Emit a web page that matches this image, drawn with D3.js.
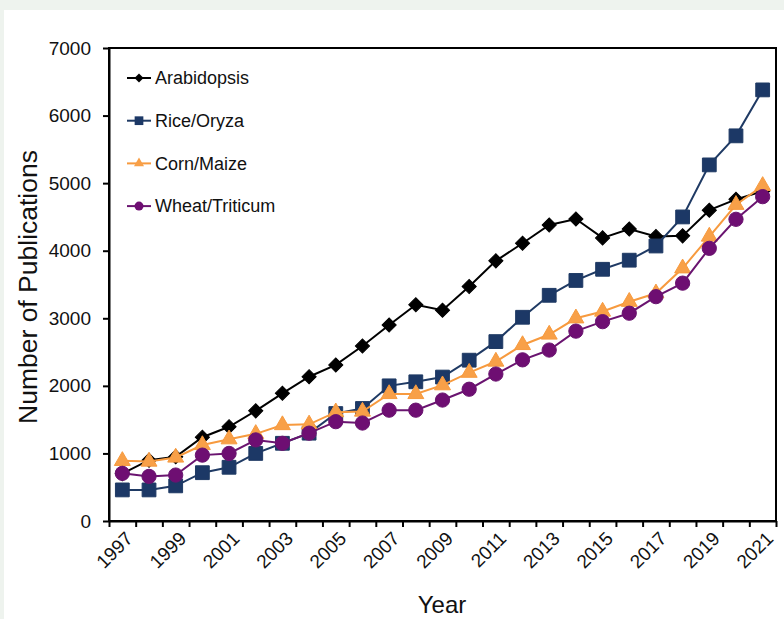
<!DOCTYPE html>
<html>
<head>
<meta charset="utf-8">
<script src="https://cdn.jsdelivr.net/npm/d3@7"></script>
<style>
    body { margin: 0; background: #eef3ee; }
    svg { display: block; font-family: "Liberation Sans", Arial, sans-serif; }
</style>
</head>
<body>
<svg id="pub-chart" width="784" height="619"></svg>
<script>
    // data
    var years = d3.range(1997, 2022);
    var arabidopsis = [700, 900, 950, 1240, 1395, 1630, 1890, 2135, 2310, 2590, 2900, 3200, 3120, 3470, 3850, 4110, 4380, 4470, 4190, 4320, 4210, 4220, 4600, 4760, 4880];
    var rice = [460, 460, 520, 715, 795, 1000, 1150, 1300, 1590, 1665, 2000, 2060, 2130, 2380, 2655, 3015, 3340, 3560, 3725, 3860, 4070, 4500, 5270, 5700, 6380];
    var corn = [890, 880, 940, 1125, 1210, 1290, 1420, 1430, 1610, 1620, 1880, 1880, 2010, 2195, 2360, 2605, 2760, 3000, 3100, 3245, 3370, 3740, 4210, 4680, 4960];
    var wheat = [705, 660, 680, 975, 1000, 1200, 1150, 1300, 1470, 1450, 1640, 1640, 1790, 1950, 2175, 2385, 2530, 2810, 2950, 3075, 3320, 3520, 4035, 4465, 4800];
    var yTicks = [0, 1000, 2000, 3000, 4000, 5000, 6000, 7000];
    var xLabels = years.filter(function(d){ return (d - 1997) % 2 === 0; });

    var svg = d3.select("#pub-chart");
    var margin = { top: 48, bottom: 98, left: 109, right: 8 };
    var w = +svg.attr("width");
    var h = +svg.attr("height");

    // white panel inside the pale frame
    svg.append("rect")
        .attr("x", 4).attr("y", 10)
        .attr("width", w - 4).attr("height", h - 10)
        .attr("fill", "#ffffff");

    var x = d3.scaleBand()
        .domain(years)
        .range([margin.left, w - margin.right])
        .padding(0);
    var xIdx = d3.scaleLinear()          // category boundaries for tick marks
        .domain([0, years.length])
        .range([margin.left, w - margin.right]);
    var y = d3.scaleLinear()
        .domain([0, 7000])
        .range([h - margin.bottom, margin.top]);

    function cx(d){ return x(d) + x.bandwidth() / 2; }

    // frame
    svg.append("rect")
        .attr("x", margin.left).attr("y", margin.top)
        .attr("width", w - margin.right - margin.left)
        .attr("height", h - margin.bottom - margin.top)
        .attr("fill", "none")
        .attr("stroke", "#000")
        .attr("stroke-width", 2);

    // y axis
    var yAxis = svg.append("g")
        .attr("transform", "translate(" + margin.left + ",0)")
        .call(d3.axisLeft(y).tickValues(yTicks).tickFormat(d3.format("d")).tickSize(6).tickSizeOuter(0).tickPadding(12));
    yAxis.selectAll("text").style("font-size", "19px").attr("fill", "#111");
    yAxis.selectAll("line, path").attr("stroke", "#000").attr("stroke-width", 2);

    // x axis: ticks on category boundaries
    var xAxis = svg.append("g")
        .attr("transform", "translate(0," + (h - margin.bottom) + ")")
        .call(d3.axisBottom(xIdx).tickValues(d3.range(years.length + 1)).tickFormat("").tickSize(6).tickSizeOuter(0));
    xAxis.selectAll("line, path").attr("stroke", "#000").attr("stroke-width", 2);

    svg.append("g").selectAll("text")
        .data(xLabels)
        .enter()
        .append("text")
        .attr("transform", function(d){ return "translate(" + (cx(d) + 7) + "," + (h - margin.bottom + 14) + ") rotate(-45)"; })
        .attr("text-anchor", "end")
        .attr("dy", "0.35em")
        .style("font-size", "19px")
        .attr("fill", "#111")
        .text(function(d){ return d; });

    // axis titles
    svg.append("text")
        .attr("transform", "translate(" + 37 + "," + 287 + ") rotate(-90)")
        .attr("text-anchor", "middle")
        .style("font-size", "26.5px")
        .attr("fill", "#111")
        .text("Number of Publications");
    svg.append("text")
        .attr("x", 442).attr("y", 613)
        .attr("text-anchor", "middle")
        .style("font-size", "24px")
        .attr("fill", "#111")
        .text("Year");

    var series = [
        { name: "Arabidopsis", values: arabidopsis, color: "#000000", fill: "#000000", shape: d3.symbolSquare, rot: 45, size: 100 },
        { name: "Rice/Oryza", values: rice, color: "#1f3a64", fill: "#1c3866", shape: d3.symbolSquare, rot: 0, size: 190 },
        { name: "Corn/Maize", values: corn, color: "#f79a3e", fill: "#f8a048", shape: d3.symbolTriangle, rot: 0, size: 110 },
        { name: "Wheat/Triticum", values: wheat, color: "#6a1470", fill: "#6e0e72", shape: d3.symbolCircle, rot: 0, size: 160 }
    ];

    var line = d3.line()
        .x(function(d){ return cx(d.year); })
        .y(function(d){ return y(d.value); });

    series.forEach(function(s){
        var pts = years.map(function(yr, i){ return { year: yr, value: s.values[i] }; });
        var g = svg.append("g").classed("series", true);
        g.append("path")
            .datum(pts)
            .attr("d", line)
            .attr("fill", "none")
            .attr("stroke", s.color)
            .attr("stroke-width", 2);
        g.selectAll(".pt")
            .data(pts)
            .enter()
            .append("path")
            .classed("pt", true)
            .attr("transform", function(d){
                return "translate(" + cx(d.year) + "," + y(d.value) + ") rotate(" + s.rot + ")";
            })
            .attr("d", d3.symbol().type(s.shape).size(s.size))
            .attr("fill", s.fill)
            .attr("stroke", s.color)
            .attr("stroke-width", 1);
    });

    // legend
    var legend = svg.append("g").attr("transform", "translate(127,78)");
    var rows = legend.selectAll("g")
        .data(series)
        .enter()
        .append("g")
        .attr("transform", function(d, i){ return "translate(0," + (i * 42.7) + ")"; });
    rows.append("line")
        .attr("x1", 0).attr("x2", 24)
        .attr("stroke", function(d){ return d.color; })
        .attr("stroke-width", 2);
    rows.append("path")
        .attr("transform", function(d){ return "translate(12,0) rotate(" + d.rot + ")"; })
        .attr("d", function(d){ return d3.symbol().type(d.shape).size(d.size * 0.4)(); })
        .attr("fill", function(d){ return d.fill; });
    rows.append("text")
        .attr("x", 28)
        .attr("dy", "0.35em")
        .style("font-size", "18px")
        .attr("fill", "#111")
        .text(function(d){ return d.name; });
</script>
</body>
</html>
